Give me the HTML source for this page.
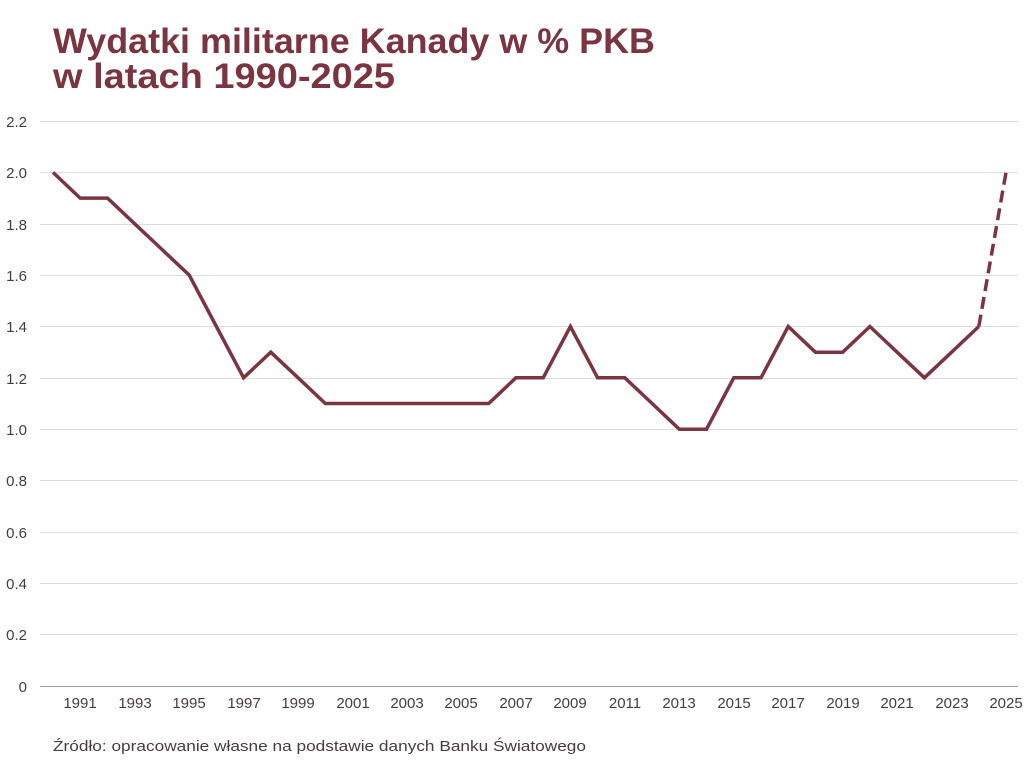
<!DOCTYPE html>
<html><head><meta charset="utf-8"><style>
body{margin:0;background:#fff;}
svg{display:block;font-family:"Liberation Sans","DejaVu Sans",sans-serif;}
</style></head><body>
<svg width="1024" height="768" viewBox="0 0 1024 768">
<text x="53" y="53" font-size="35" font-weight="bold" fill="#7a3540" textLength="602" lengthAdjust="spacingAndGlyphs">Wydatki militarne Kanady w % PKB</text>
<text x="53" y="88" font-size="35" font-weight="bold" fill="#7a3540" textLength="342" lengthAdjust="spacingAndGlyphs">w latach 1990-2025</text>
<g stroke="#dddddd" stroke-width="1">
<line x1="40" x2="1018" y1="121.5" y2="121.5"/>
<line x1="40" x2="1018" y1="172.5" y2="172.5"/>
<line x1="40" x2="1018" y1="224.5" y2="224.5"/>
<line x1="40" x2="1018" y1="275.5" y2="275.5"/>
<line x1="40" x2="1018" y1="326.5" y2="326.5"/>
<line x1="40" x2="1018" y1="378.5" y2="378.5"/>
<line x1="40" x2="1018" y1="429.5" y2="429.5"/>
<line x1="40" x2="1018" y1="480.5" y2="480.5"/>
<line x1="40" x2="1018" y1="532.5" y2="532.5"/>
<line x1="40" x2="1018" y1="583.5" y2="583.5"/>
<line x1="40" x2="1018" y1="634.5" y2="634.5"/>
</g>
<line x1="40" x2="1018" y1="686.5" y2="686.5" stroke="#a89ca0" stroke-width="1"/>
<g font-size="15" fill="#4a3a40" text-anchor="end">
<text x="27" y="127">2.2</text><text x="27" y="178">2.0</text><text x="27" y="230">1.8</text>
<text x="27" y="281">1.6</text><text x="27" y="332">1.4</text><text x="27" y="384">1.2</text>
<text x="27" y="435">1.0</text><text x="27" y="486">0.8</text><text x="27" y="538">0.6</text>
<text x="27" y="589">0.4</text><text x="27" y="640">0.2</text><text x="27" y="692">0</text>
</g>
<g font-size="15" fill="#4a3a40" text-anchor="middle">
<text x="80" y="708">1991</text><text x="135" y="708">1993</text><text x="189" y="708">1995</text>
<text x="244" y="708">1997</text><text x="298" y="708">1999</text><text x="353" y="708">2001</text>
<text x="407" y="708">2003</text><text x="461" y="708">2005</text><text x="516" y="708">2007</text>
<text x="570" y="708">2009</text><text x="625" y="708">2011</text><text x="679" y="708">2013</text>
<text x="734" y="708">2015</text><text x="788" y="708">2017</text><text x="843" y="708">2019</text>
<text x="897" y="708">2021</text><text x="952" y="708">2023</text><text x="1006" y="708">2025</text>
</g>
<polyline fill="none" stroke="#7a3540" stroke-width="3.5" stroke-linejoin="miter"
points="53,172.4 80.2,198.1 107.5,198.1 134.7,223.8 161.9,249.4 189.2,275.1 216.4,326.5 243.6,377.8 270.8,352.2 298.1,377.8 325.3,403.5 488.7,403.5 515.9,377.8 543.2,377.8 570.4,326.5 597.6,377.8 624.8,377.8 652.1,403.5 679.3,429.2 706.5,429.2 733.8,377.8 761,377.8 788.2,326.5 815.4,352.2 842.7,352.2 869.9,326.5 897.1,352.2 924.4,377.8 951.6,352.2 978.8,326.5"/>
<line x1="978.8" y1="326.5" x2="1006" y2="172.4" stroke="#7a3540" stroke-width="3.5" stroke-dasharray="12,6"/>
<text x="53" y="751" font-size="15" fill="#4a3a40" textLength="533" lengthAdjust="spacingAndGlyphs">Źródło: opracowanie własne na podstawie danych Banku Światowego</text>
</svg>
</body></html>
